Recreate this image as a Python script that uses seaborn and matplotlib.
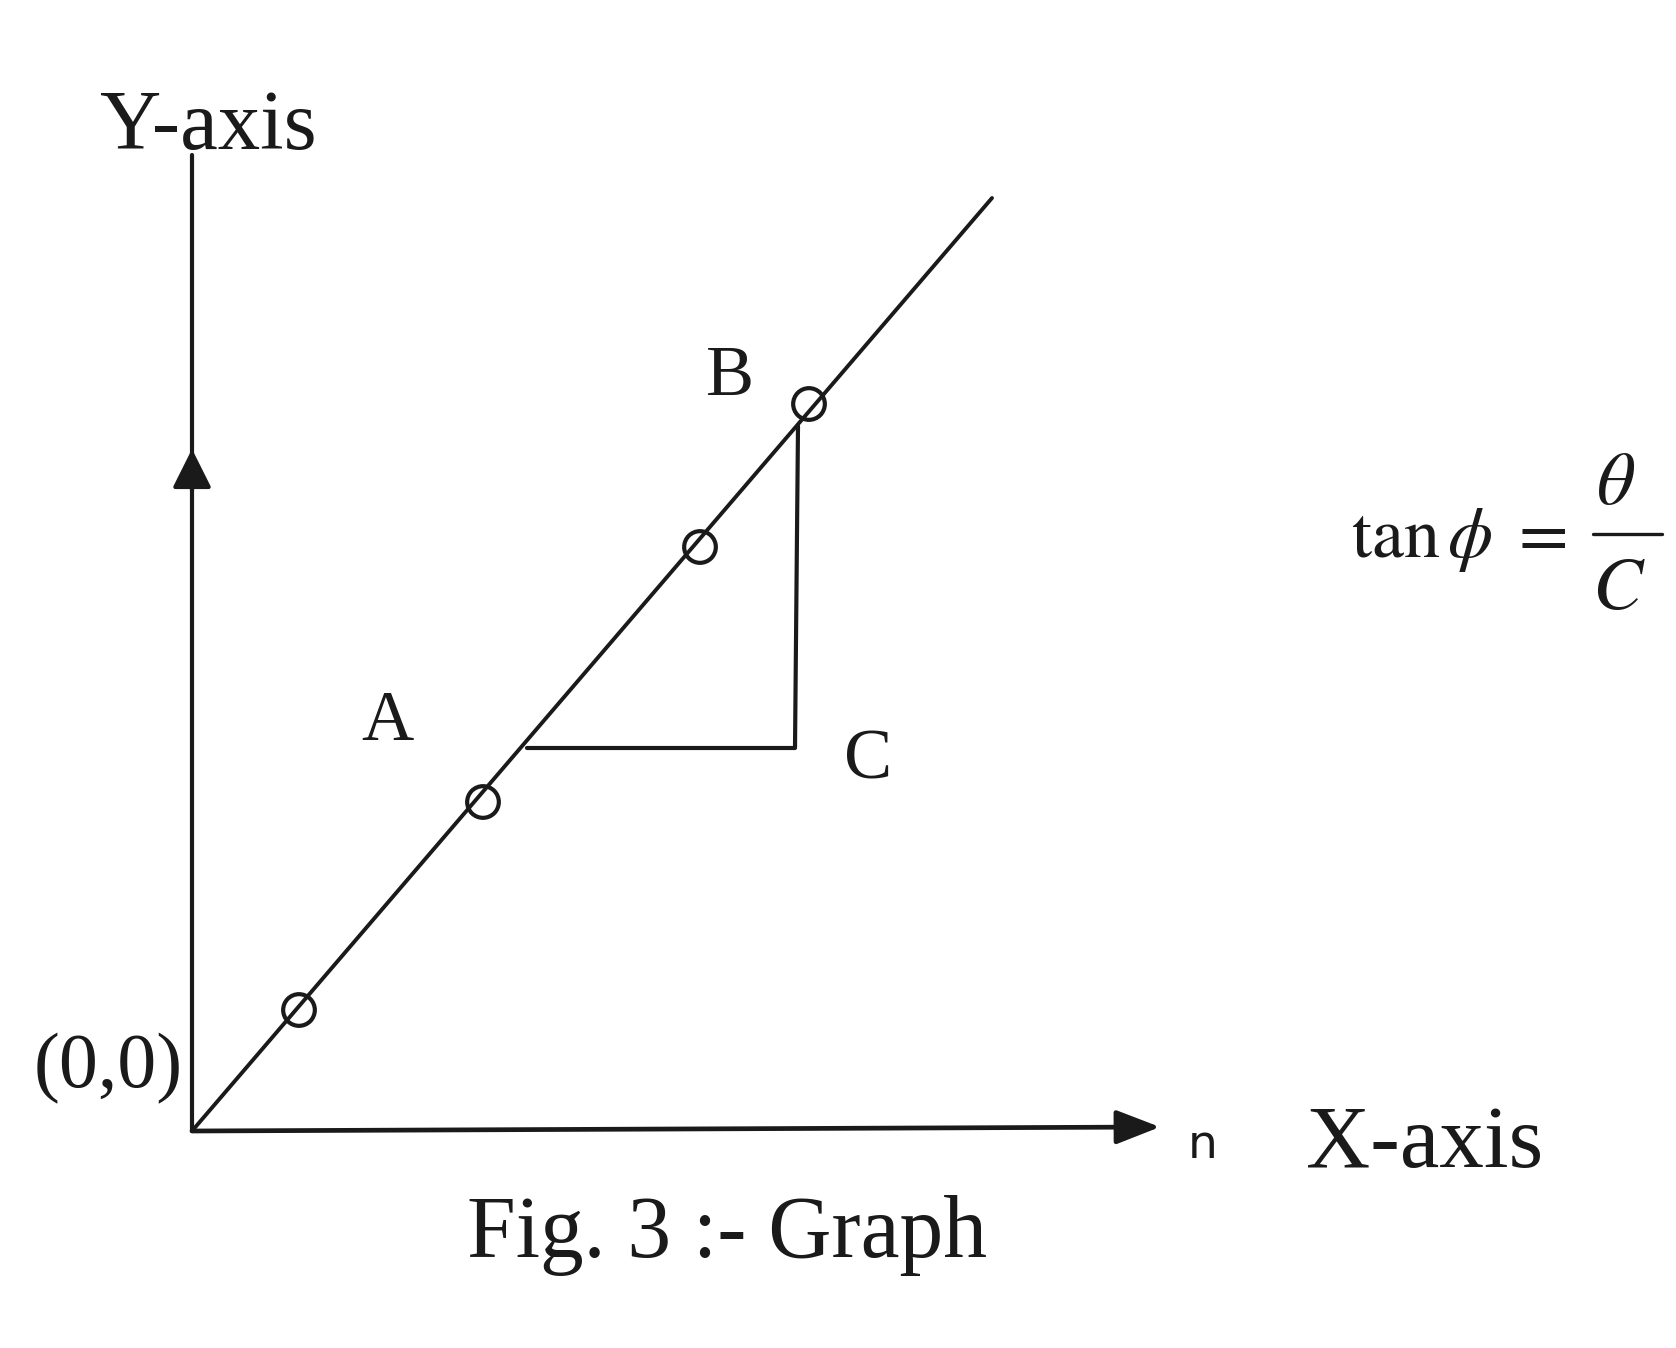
# Fig. 3 :- Graph  (droite passant par l'origine, triangle ABC)
import matplotlib
matplotlib.use("Agg")
import matplotlib.pyplot as plt
import seaborn as sns
import pandas as pd

# données (unités arbitraires, origine en (0,0))
line_x = [0.0, 8.0]
line_y = [0.0, 9.33]
pts_x = [1.07, 2.91, 5.08, 6.17]
pts_y = [1.21, 3.29, 5.84, 7.27]
tri_x = [3.35, 6.03, 6.06]
tri_y = [3.83, 3.83, 7.05]
yaxis_top = 9.76
yarrow = [6.40, 6.82]
xaxis_end = 9.68

labels = ["B", "A", "C"]
labels_x = [5.38, 1.95, 6.76]
labels_y = [7.54, 4.09, 3.70]

sns.set_theme(style="white")
plt.rcParams['font.family'] = ['Liberation Serif', 'DejaVu Serif']
plt.rcParams['mathtext.fontset'] = 'stix'

fig = plt.figure(figsize=(16.76, 13.48), dpi=100)
ax = fig.add_axes([0, 0, 1, 1])
ax.set_xlim(-1.92, 14.84)
ax.set_ylim(-2.17, 11.31)
ax.axis("off")

ink = "#1a1a1a"

# axes du graphe
ax.plot([0, 0], [0, yaxis_top], color=ink, lw=3.0)
ax.annotate("", xy=(0, yarrow[1]), xytext=(0, yarrow[0]),
            arrowprops=dict(arrowstyle="-|>,head_length=0.8,head_width=0.4",
                            color=ink, lw=3.0, mutation_scale=30, shrinkA=0, shrinkB=0))
ax.annotate("", xy=(xaxis_end, 0.04), xytext=(0, 0),
            arrowprops=dict(arrowstyle="-|>,head_length=0.9,head_width=0.35",
                            color=ink, lw=3.4, mutation_scale=30, shrinkA=0, shrinkB=0))

# droite et points
df_line = pd.DataFrame({"x": line_x, "y": line_y})
sns.lineplot(data=df_line, x="x", y="y", ax=ax, color=ink, lw=2.8, sort=False)
df_pts = pd.DataFrame({"x": pts_x, "y": pts_y})
sns.scatterplot(data=df_pts, x="x", y="y", ax=ax, s=520, facecolor="none",
                edgecolor=ink, linewidth=3.0, zorder=5)

# triangle A-C-B
ax.plot(tri_x, tri_y, color=ink, lw=3.0)

for lab, lx, ly in zip(labels, labels_x, labels_y):
    ax.text(lx, ly, lab, fontsize=52, ha="center", va="center", color=ink)

ax.text(0.16, 10.03, "Y-axis", fontsize=61, ha="center", va="center", color=ink)
ax.text(12.33, -0.15, "X-axis", fontsize=64, ha="center", va="center", color=ink)
ax.text(10.11, -0.15, "n", fontsize=34, ha="center", va="center", color=ink,
        family=["DejaVu Sans"])
ax.text(-0.84, 0.62, "(0,0)", fontsize=56, ha="center", va="center", color=ink)
ax.text(5.35, -1.04, "Fig. 3 :- Graph", fontsize=63, ha="center", va="center", color=ink)

# formule  tan(phi) = theta / C
ax.text(12.67, 5.91, r"$\mathrm{tan}\,\phi\;=$", fontsize=52,
        ha="center", va="center", color=ink)
ax.text(14.24, 6.45, r"$\theta$", fontsize=54, ha="center", va="center", color=ink)
ax.text(14.27, 5.40, r"$C$", fontsize=54, ha="center", va="center", color=ink)
ax.plot([14.01, 14.70], [5.97, 5.97], color=ink, lw=2.4)

ax.set_xlabel("")
ax.set_ylabel("")
fig.savefig("out.png", dpi=100, facecolor="white")
